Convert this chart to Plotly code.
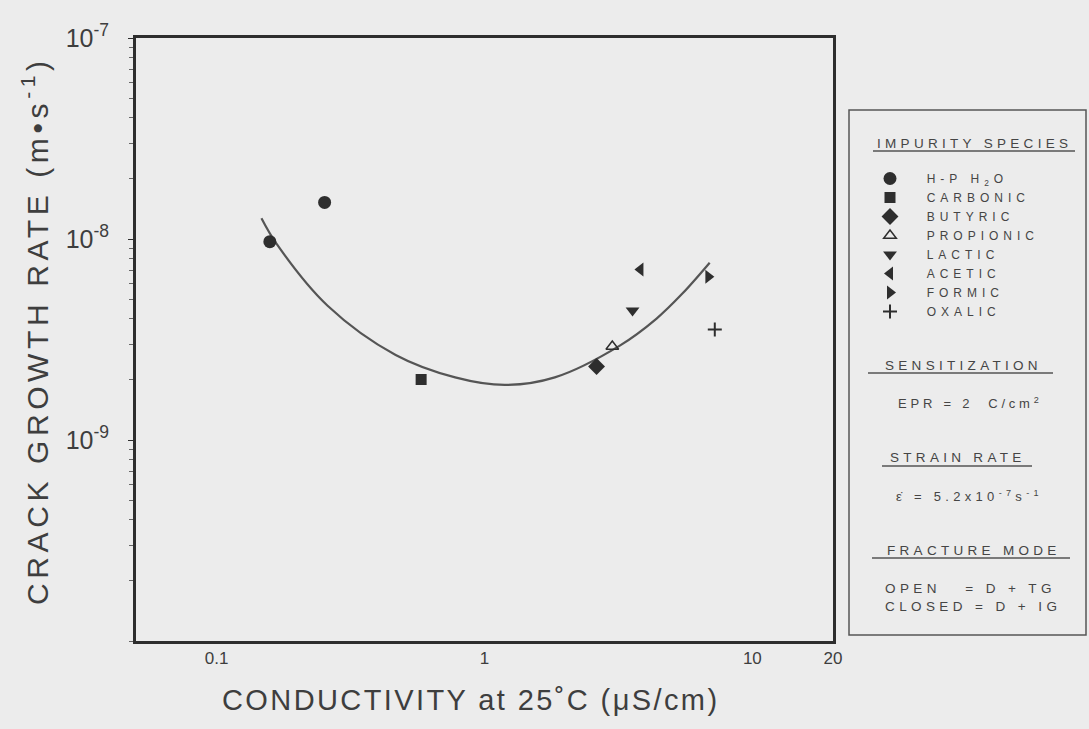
import plotly.graph_objects as go

# ---------------- data ----------------
species = ["H-P H<sub>2</sub>O", "CARBONIC", "BUTYRIC", "PROPIONIC",
           "LACTIC", "ACETIC", "FORMIC", "OXALIC"]
symbols = ["circle", "square", "diamond", "triangle-up-open",
           "triangle-down", "triangle-left", "triangle-right", "cross-thin"]

hp_x = [0.158, 0.253]
hp_y = [9.7e-9, 1.52e-8]
carbonic_x = [0.58]
carbonic_y = [2.0e-9]
butyric_x = [2.62]
butyric_y = [2.32e-9]
propionic_x = [3.00]
propionic_y = [2.92e-9]
lactic_x = [3.57]
lactic_y = [4.41e-9]
acetic_x = [3.82]
acetic_y = [7.05e-9]
formic_x = [6.85]
formic_y = [6.49e-9]
oxalic_x = [7.24]
oxalic_y = [3.55e-9]

fit_x = [0.147, 0.168, 0.259, 0.466, 0.777, 1.19, 1.83, 3.20, 4.39, 5.48, 6.93]
fit_y = [1.27e-8, 9.4e-9, 4.67e-9, 2.65e-9, 2.05e-9, 1.88e-9, 2.05e-9,
         2.95e-9, 4.02e-9, 5.35e-9, 7.62e-9]

x_ticks = [0.1, 1, 10, 20]
x_ticktext = ["0.1", "1", "10", "20"]
y_ticks = [1e-7, 1e-8, 1e-9]
y_ticktext = ["10<sup>-7</sup>", "10<sup>-8</sup>", "10<sup>-9</sup>"]

series_x = [hp_x, carbonic_x, butyric_x, propionic_x, lactic_x, acetic_x, formic_x, oxalic_x]
series_y = [hp_y, carbonic_y, butyric_y, propionic_y, lactic_y, acetic_y, formic_y, oxalic_y]

# ---------------- layout geometry ----------------
W, H = 1089, 729
L, R, T, B = 136, 833, 38, 641  # plot area in pixels
INK = "#2e2e2e"
TXT = "#454545"
BG = "#ececec"
FONT = "Liberation Sans, Arial, sans-serif"


def px(x):
    return (x - L) / (R - L)


def py(y):
    return (B - y) / (B - T)


def spaced(s, sp):
    return f'<span style="letter-spacing:{sp}px">{s}</span>'


fig = go.Figure()

fig.add_trace(go.Scatter(
    x=fit_x, y=fit_y, mode="lines", line=dict(color="#555555", width=2.2,
                                              shape="spline", smoothing=1.0),
    showlegend=False, hoverinfo="skip"))

for name, sym, xs, ys in zip(species, symbols, series_x, series_y):
    size = 13
    line = dict(width=0, color=INK)
    if sym == "triangle-up-open":
        line = dict(width=1.5, color=INK)
        size = 11
    if sym == "cross-thin":
        line = dict(width=2, color=INK)
        size = 10
    if sym == "square":
        size = 11
    if sym.startswith("triangle") and sym != "triangle-up-open":
        size = 12
    fig.add_trace(go.Scatter(
        x=xs, y=ys, mode="markers",
        name="\u00a0\u00a0\u00a0\u00a0\u00a0" + spaced(name, 5),
        marker=dict(symbol=sym, size=size, color=INK, line=line)))

# ---------------- side panel ----------------
shapes = [
    dict(type="rect", xref="paper", yref="paper",
         x0=px(849), x1=px(1086), y0=py(635), y1=py(110),
         line=dict(color="#555555", width=1.5)),
]
for x0, x1, y in [(873, 1075, 151), (868, 1053, 373), (882, 1032, 466), (872, 1070, 558)]:
    shapes.append(dict(type="line", xref="paper", yref="paper",
                       x0=px(x0), x1=px(x1), y0=py(y), y1=py(y),
                       line=dict(color="#555555", width=1.3)))

annots = []


def note(text, x, y, size=13.5, xanchor="center", sp=4.3, angle=0, color=TXT):
    annots.append(dict(text=spaced(text, sp), x=px(x), y=py(y), xref="paper", yref="paper",
                       showarrow=False, xanchor=xanchor, yanchor="middle", textangle=angle,
                       font=dict(size=size, color=color, family=FONT)))


note("IMPURITY SPECIES", 974, 143)
note("SENSITIZATION", 963, 365)
note("EPR = 2 \u00a0C/cm<sup>2</sup>", 970, 403, size=13, sp=3.8)
note("STRAIN RATE", 958, 458)
note("\u03b5\u0307 = 5.2x10<sup>-7</sup>s<sup>-1</sup>", 969, 496, size=13, sp=4.3)
note("FRACTURE MODE", 974, 550)
note("OPEN \u00a0\u00a0= D + TG", 883, 588, size=13.5, xanchor="left", sp=4.4)
note("CLOSED = D + IG", 883, 606, size=13.5, xanchor="left", sp=4.4)

# axis titles
note("CONDUCTIVITY at 25\u02daC (\u03bcS/cm)", 470, 700, size=29, sp=2.4, color="#3e3e3e")
note("CRACK GROWTH RATE (m\u2022s<sup>-1</sup>)", 35, 331, size=30, sp=4.6, angle=-90,
     color="#3e3e3e")

fig.update_layout(
    width=W, height=H,
    margin=dict(l=L, r=W - R, t=T, b=H - B),
    paper_bgcolor=BG, plot_bgcolor=BG,
    font=dict(family=FONT, color=TXT),
    shapes=shapes, annotations=annots,
    legend=dict(x=px(870), y=py(164), xanchor="left", yanchor="top",
                bgcolor="rgba(0,0,0,0)", borderwidth=0,
                font=dict(size=12, color=TXT, family=FONT),
                itemwidth=30, tracegroupgap=0),
)

fig.update_xaxes(
    type="log", range=[-1.30103, 1.30103],
    tickvals=x_ticks, ticktext=x_ticktext,
    tickfont=dict(size=17, color="#3e3e3e"),
    ticks="",
    showline=True, linecolor=INK, linewidth=2.8, mirror=True,
    showgrid=False, zeroline=False,
)
fig.update_yaxes(
    type="log", range=[-10, -7],
    tickvals=y_ticks, ticktext=y_ticktext,
    tickfont=dict(size=25, color="#3e3e3e"),
    ticks="outside", ticklen=5, tickcolor=INK, ticklabelstandoff=14,
    minor=dict(ticks="outside", ticklen=4, dtick="D1", tickcolor="#666666", showgrid=False),
    showline=True, linecolor=INK, linewidth=2.8, mirror=True,
    showgrid=False, zeroline=False,
)

fig.write_html("out.html")
